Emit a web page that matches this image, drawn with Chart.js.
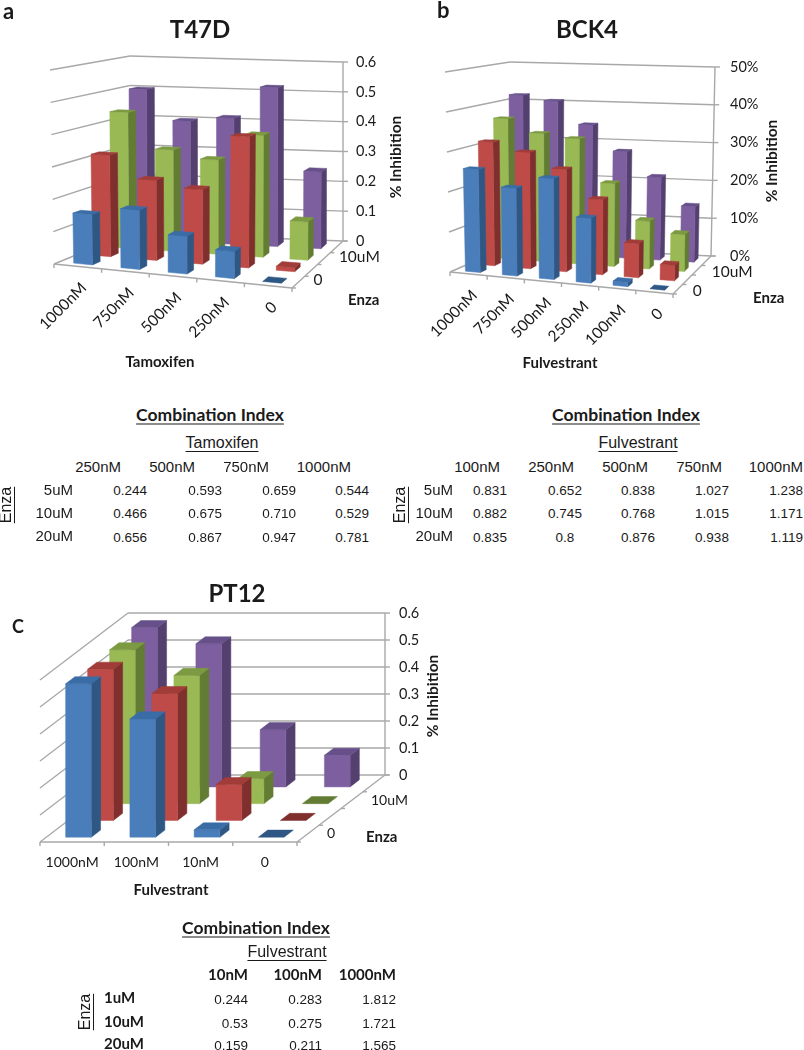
<!DOCTYPE html>
<html>
<head>
<meta charset="utf-8">
<title>Combination Index</title>
<script src="https://cdn.jsdelivr.net/npm/chart.js@4"></script>
<style>
  body { margin: 0; background: #fff; }
  #page { position: relative; width: 804px; height: 1050px; overflow: hidden; }
  canvas { position: absolute; }
  .txt { position: absolute; white-space: nowrap; line-height: 1; color: #1a1a1a; }
</style>
</head>
<body>
<div id="page"></div>
<script>
// --- Chart data ---
const seriesNames = ["0", "5uM", "10uM", "20uM"];

const t47dCats = ["1000nM", "750nM", "500nM", "250nM", "0"];
const t47dBlue = [0.155, 0.18, 0.113, 0.08, 0];
const t47dRed = [0.32, 0.25, 0.23, 0.40, 0.012];
const t47dGreen = [0.44, 0.325, 0.30, 0.385, 0.12];
const t47dPurple = [0.50, 0.40, 0.415, 0.52, 0.25];
const t47dTicks = [0, 0.1, 0.2, 0.3, 0.4, 0.5, 0.6];

const bck4Cats = ["1000nM", "750nM", "500nM", "250nM", "100nM", "0"];
const bck4Blue = [0.257, 0.216, 0.245, 0.155, 0.01, 0];
const bck4Red = [0.315, 0.293, 0.255, 0.185, 0.083, 0.037];
const bck4Green = [0.365, 0.33, 0.32, 0.21, 0.12, 0.092];
const bck4Purple = [0.418, 0.405, 0.345, 0.278, 0.215, 0.143];

const pt12Cats = ["1000nM", "100nM", "10nM", "0"];
const pt12Blue = [0.568, 0.438, 0.027, 0];
const pt12Red = [0.56, 0.47, 0.133, 0];
const pt12Green = [0.57, 0.475, 0.093, 0];
const pt12Purple = [0.59, 0.53, 0.212, 0.117];

// --- Combination index tables ---
const ciRowsTop = ["5uM", "10uM", "20uM"];
const tamHead = ["250nM", "500nM", "750nM", "1000nM"];
const tamVals = [
  ["0.244", "0.593", "0.659", "0.544"],
  ["0.466", "0.675", "0.710", "0.529"],
  ["0.656", "0.867", "0.947", "0.781"]
];
const fulHead = ["100nM", "250nM", "500nM", "750nM", "1000nM"];
const fulVals = [
  ["0.831", "0.652", "0.838", "1.027", "1.238"],
  ["0.882", "0.745", "0.768", "1.015", "1.171"],
  ["0.835", "0.8", "0.876", "0.938", "1.119"]
];
const ptRows = ["1uM", "10uM", "20uM"];
const ptHead = ["10nM", "100nM", "1000nM"];
const ptVals = [
  ["0.244", "0.283", "1.812"],
  ["0.53", "0.275", "1.721"],
  ["0.159", "0.211", "1.565"]
];

// --- Colours: front, side, top ---
const faceColors = [
  ["#4a7ebb", "#2f5784", "#3a6ca6"],
  ["#be4b48", "#7f2f2d", "#a13c39"],
  ["#98b954", "#637c33", "#7c9a41"],
  ["#7d5fa0", "#53406f", "#67508a"]
];
const gridColor = "#a8a8a8";
const sans = "Lato, 'Noto Sans', sans-serif";
const arial = "'Liberation Sans', Arial, sans-serif";

const page = document.getElementById("page");

// --- Plain text helper ---
function put(text, x, y, o = {}) {
  const el = document.createElement("div");
  el.className = "txt";
  el.textContent = text;
  el.style.left = x + "px";
  el.style.top = y + "px";
  el.style.font = `${o.weight || "normal"} ${o.size || 14}px ${o.family || arial}`;
  if (o.underline) { el.style.textDecoration = "underline"; el.style.textUnderlineOffset = "3px"; }
  const shiftX = o.align === "right" ? "-100%" : o.align === "left" ? "0" : "-50%";
  el.style.transform = `translate(${shiftX}, -50%)` + (o.rotate ? ` rotate(${o.rotate}deg)` : "");
  page.appendChild(el);
  return el;
}

// --- Box projection: X along categories, Y up the value axis, Z back through the series ---
function project(f, X, Y, Z) {
  const mix = (a, b, t) => [a[0] + (b[0] - a[0]) * t, a[1] + (b[1] - a[1]) * t];
  const low = mix(mix(f.flb, f.frb, X), mix(f.blb, f.brb, X), Z);
  const high = mix(mix(f.flt, f.frt, X), mix(f.blt, f.brt, X), Z);
  return mix(low, high, Y);
}

function quad(ctx, pts, fill) {
  ctx.beginPath();
  pts.forEach((p, i) => i ? ctx.lineTo(p[0], p[1]) : ctx.moveTo(p[0], p[1]));
  ctx.closePath();
  ctx.fillStyle = fill;
  ctx.fill();
  ctx.strokeStyle = fill;
  ctx.lineWidth = 0.5;
  ctx.stroke();
}

function segment(ctx, a, b) {
  ctx.beginPath();
  ctx.moveTo(a[0], a[1]);
  ctx.lineTo(b[0], b[1]);
  ctx.stroke();
}

const box3d = {
  id: "box3d",
  // walls and floor go under the bars
  beforeDatasetsDraw(chart) {
    const o = chart.options.plugins.box3d;
    const f = o.frame.map(([x, y]) => [x - o.ox, y - o.oy]);
    const fr = { flb: f[0], frb: f[1], blb: f[2], brb: f[3], flt: f[4], frt: f[5], blt: f[6], brt: f[7] };
    chart.$frame = fr;
    const ctx = chart.ctx;
    const sy = chart.scales.y;
    const area = chart.chartArea;
    ctx.save();
    ctx.strokeStyle = gridColor;
    ctx.lineWidth = 1.4;
    sy.ticks.forEach(t => {
      const Y = (area.bottom - sy.getPixelForValue(t.value)) / area.height;
      const a = project(fr, 0, Y, 0), b = project(fr, 0, Y, 1), c = project(fr, 1, Y, 1);
      segment(ctx, a, b);
      segment(ctx, b, c);
      segment(ctx, c, [c[0] + 5, c[1]]);
    });
    segment(ctx, project(fr, 1, 0, 1), project(fr, 1, 1, 1));
    // floor edges and their ticks
    segment(ctx, project(fr, 0, 0, 0), project(fr, 1, 0, 0));
    segment(ctx, project(fr, 1, 0, 0), project(fr, 1, 0, 1));
    const n = chart.data.labels.length;
    for (let i = 0; i <= n; i++) {
      const p = project(fr, i / n, 0, 0);
      segment(ctx, p, [p[0], p[1] + 4]);
    }
    const rows = chart.data.datasets.length;
    for (let i = 0; i <= rows; i++) {
      const p = project(fr, 1, 0, i / rows);
      segment(ctx, p, [p[0] + 4, p[1]]);
    }
    ctx.restore();
  },
  // each bar element keeps its scale position, we only draw it in the box
  beforeDatasetDraw(chart, args) {
    const o = chart.options.plugins.box3d;
    const fr = chart.$frame;
    const area = chart.chartArea;
    const rows = chart.data.datasets.length;
    const c = faceColors[args.index];
    const ctx = chart.ctx;
    const z0 = (args.index + 0.5 - o.barDepth / 2) / rows;
    const z1 = (args.index + 0.5 + o.barDepth / 2) / rows;
    chart.getDatasetMeta(args.index).data.forEach(bar => {
      const x0 = (bar.x - bar.width / 2 - area.left) / area.width;
      const x1 = (bar.x + bar.width / 2 - area.left) / area.width;
      const y1 = (area.bottom - bar.y) / area.height;
      if (y1 > 0.001) {
        quad(ctx, [project(fr, x1, 0, z0), project(fr, x1, 0, z1), project(fr, x1, y1, z1), project(fr, x1, y1, z0)], c[1]);
        quad(ctx, [project(fr, x0, 0, z0), project(fr, x1, 0, z0), project(fr, x1, y1, z0), project(fr, x0, y1, z0)], c[0]);
      }
      quad(ctx, [project(fr, x0, y1, z0), project(fr, x1, y1, z0), project(fr, x1, y1, z1), project(fr, x0, y1, z1)], y1 > 0.001 ? c[2] : c[1]);
    });
    return false;
  },
  // category and series names follow the floor edges
  afterDraw(chart) {
    const o = chart.options.plugins.box3d;
    const fr = chart.$frame;
    const ctx = chart.ctx;
    const n = chart.data.labels.length;
    ctx.save();
    ctx.fillStyle = "#1a1a1a";
    ctx.font = `${o.labelSize}px ${sans}`;
    chart.data.labels.forEach((name, i) => {
      const p = project(fr, (i + 0.5) / n, 0, 0);
      ctx.save();
      ctx.translate(p[0] + o.labelShift[0], p[1] + o.labelShift[1]);
      if (o.labelAngle) {
        ctx.rotate(o.labelAngle);
        ctx.textAlign = "right";
      } else {
        ctx.textAlign = "center";
      }
      ctx.textBaseline = "middle";
      ctx.fillText(name, 0, 0);
      ctx.restore();
    });
    const rows = chart.data.datasets.length;
    ctx.textAlign = "left";
    ctx.textBaseline = "middle";
    [0, 2].forEach(i => {
      const p = project(fr, 1, 0, (i + 0.5) / rows);
      ctx.fillText(chart.data.datasets[i].label, p[0] + o.depthShift[0], p[1] + o.depthShift[1]);
    });
    ctx.restore();
  }
};

// --- One panel, one canvas ---
function makePanel(cfg) {
  const canvas = document.createElement("canvas");
  canvas.width = cfg.box[2];
  canvas.height = cfg.box[3];
  canvas.style.left = cfg.box[0] + "px";
  canvas.style.top = cfg.box[1] + "px";
  page.appendChild(canvas);
  const [ox, oy, w, h] = cfg.box;
  const backLeft = cfg.frame[6], backRight = cfg.frame[7], backBottom = cfg.frame[3];
  const axisWidth = 60;
  new Chart(canvas, {
    type: "bar",
    data: {
      labels: cfg.labels,
      datasets: cfg.series.map((values, i) => ({
        label: seriesNames[i],
        data: values,
        backgroundColor: faceColors[i][0],
        grouped: false,
        barPercentage: 0.4,
        categoryPercentage: 1
      }))
    },
    options: {
      responsive: false,
      animation: false,
      layout: {
        autoPadding: false,
        padding: {
          left: backLeft[0] - ox,
          top: backRight[1] - oy,
          right: w - (backRight[0] - ox) - axisWidth,
          bottom: h - (backBottom[1] - oy)
        }
      },
      plugins: {
        legend: { display: false },
        tooltip: { enabled: false },
        box3d: {
          frame: cfg.frame, ox, oy, barDepth: 0.42,
          labelShift: cfg.labelShift, labelAngle: cfg.labelAngle, labelSize: cfg.labelSize,
          depthShift: cfg.depthShift
        }
      },
      scales: {
        x: { display: false },
        y: {
          position: "right",
          min: 0,
          max: cfg.max,
          afterFit: s => { s.width = axisWidth; },
          grid: { display: false },
          border: { display: false },
          ticks: {
            stepSize: 0.1,
            padding: cfg.tickPad,
            color: "#1a1a1a",
            font: { family: sans, size: 14.5 },
            callback: cfg.tickFormat
          }
        }
      }
    },
    plugins: [box3d]
  });
}

const plainTick = v => String(+v.toFixed(1));
const percentTick = v => Math.round(v * 100) + "%";

makePanel({
  box: [0, 0, 420, 390],
  labels: t47dCats,
  series: [t47dBlue, t47dRed, t47dGreen, t47dPurple],
  max: t47dTicks[t47dTicks.length - 1],
  frame: [[54, 264], [292, 288], [130, 233], [343, 241], [50, 70], [296, 78], [130, 56], [343, 62]],
  labelShift: [6, 19], labelAngle: -Math.PI / 4, labelSize: 15.5, depthShift: [15, -2],
  tickPad: 5, tickFormat: plainTick
});
makePanel({
  box: [400, 0, 404, 390],
  labels: bck4Cats,
  series: [bck4Blue, bck4Red, bck4Green, bck4Purple],
  max: 0.5,
  frame: [[450, 272], [673, 294], [510, 246], [711, 256], [445, 72], [677, 76], [510, 62], [715, 67]],
  labelShift: [6, 19], labelAngle: -Math.PI / 4, labelSize: 15.5, depthShift: [15, 2],
  tickPad: 7, tickFormat: percentTick
});
makePanel({
  box: [0, 570, 460, 340],
  labels: pt12Cats,
  series: [pt12Blue, pt12Red, pt12Green, pt12Purple],
  max: 0.6,
  frame: [[40, 842], [297, 842], [128, 775], [385, 775], [40, 680], [297, 680], [128, 613], [385, 613]],
  labelShift: [0, 20], labelAngle: 0, labelSize: 14, depthShift: [19, 0],
  tickPad: 6, tickFormat: plainTick
});

// --- Panel letters, titles, axis names ---
put("a", 3, 10, { weight: "bold", size: 22, family: sans, align: "left" });
put("b", 437, 9, { weight: "bold", size: 22, family: sans, align: "left" });
put("C", 12, 626, { weight: "bold", size: 18, family: sans, align: "left" });
put("T47D", 200, 28, { weight: "bold", size: 24, family: sans });
put("BCK4", 587, 28, { weight: "bold", size: 24, family: sans });
put("PT12", 237, 592, { weight: "bold", size: 24, family: sans });

const axisName = { weight: "bold", size: 15, family: sans };
const sideName = { weight: "bold", size: 15.5, family: sans, rotate: -90 };
put("% Inhibition", 395, 157, sideName);
put("% Inhibition", 771, 161, sideName);
put("% Inhibition", 432, 696, sideName);
put("Enza", 348, 299, { ...axisName, align: "left" });
put("Enza", 753, 297, { ...axisName, align: "left" });
put("Enza", 366, 836, { ...axisName, align: "left" });
put("Tamoxifen", 160, 361, axisName);
put("Fulvestrant", 560, 362, axisName);
put("Fulvestrant", 171, 889, axisName);

// --- Combination index tables ---
function ciTable(t) {
  put("Combination Index", t.titleX, t.titleY, { weight: "bold", size: 17.5, family: sans, underline: true });
  put(t.drug, t.drugX, t.drugY, { size: 16, underline: true });
  t.head.forEach((name, c) => put(name, t.headX[c], t.headY, { align: "right", size: 15, family: t.headFont, weight: t.headWeight }));
  t.rows.forEach((name, r) => {
    put(name, t.rowX, t.rowY[r], { align: t.rowAlign, size: 15, family: t.headFont, weight: t.headWeight });
    t.vals[r].forEach((v, c) => put(v, t.colX[c], t.valY[r], { align: t.colAlign[c], size: 13.5 }));
  });
  put("Enza", t.enzaX, t.enzaY, { size: 16, rotate: -90, underline: true });
}

ciTable({
  titleX: 210, titleY: 414, drug: "Tamoxifen", drugX: 222, drugY: 443,
  head: tamHead, headX: [121, 195, 269, 351], headY: 466,
  rows: ciRowsTop, rowX: 73, rowAlign: "right", rowY: [489, 512, 535],
  vals: tamVals, colX: [147, 222, 296, 369], colAlign: ["right", "right", "right", "right"], valY: [490, 513, 537],
  enzaX: 6, enzaY: 505
});
ciTable({
  titleX: 626, titleY: 414, drug: "Fulvestrant", drugX: 638, drugY: 443,
  head: fulHead, headX: [500, 574, 648, 722, 803], headY: 466,
  rows: ciRowsTop, rowX: 453, rowAlign: "right", rowY: [489, 512, 535],
  vals: fulVals, colX: [490, 565, 638, 712, 803], colAlign: ["center", "center", "center", "center", "right"], valY: [490, 513, 537],
  enzaX: 400, enzaY: 505
});
ciTable({
  titleX: 256, titleY: 927, drug: "Fulvestrant", drugX: 287, drugY: 952,
  head: ptHead, headX: [248, 322, 396], headY: 974, headFont: sans, headWeight: "bold",
  rows: ptRows, rowX: 104, rowAlign: "left", rowY: [997, 1021, 1043],
  vals: ptVals, colX: [248, 322, 396], colAlign: ["right", "right", "right"], valY: [999, 1023, 1045],
  enzaX: 85, enzaY: 1012
});
</script>
</body>
</html>
